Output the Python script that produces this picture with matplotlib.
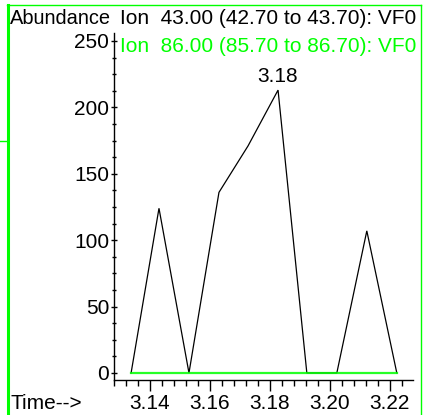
import matplotlib
matplotlib.use("Agg")
import matplotlib.pyplot as plt
from matplotlib.ticker import MultipleLocator, FormatStrFormatter
from matplotlib.lines import Line2D

plt.rcParams['font.family'] = ['Liberation Sans', 'DejaVu Sans']

# Data
times = [3.1337, 3.1430, 3.1530, 3.1630, 3.1727, 3.1827, 3.1923, 3.2023, 3.2123, 3.2223]
ion43 = [0, 124, 0, 136, 171, 213, 0, 0, 107, 0]
ion86 = [0, 0, 0, 0, 0, 0, 0, 0, 0, 0]
peak_label = "3.18"
peak_time = 3.1827
peak_value = 213
title1 = "Ion  43.00 (42.70 to 43.70): VF0"
title2 = "Ion  86.00 (85.70 to 86.70): VF0"

W, H = 423, 415
fig = plt.figure(figsize=(W / 100, H / 100), dpi=100)
green = "#00ff00"
fs = 15

def fx(px):
    return px / W

def fy(py):
    return 1 - py / H

ax = fig.add_axes([fx(114), fy(380), fx(413) - fx(114), fy(33) - fy(380)])
ax.plot(times, ion43, color="black", lw=0.9, solid_joinstyle="miter")
ax.plot(times, ion86, color=green, lw=1.6, alpha=0.85)

ax.set_xlim(3.128, 3.2277)
ax.set_ylim(-5.3, 256)
ax.spines['top'].set_visible(False)
ax.spines['right'].set_visible(False)
ax.spines['left'].set_linewidth(1.0)
ax.spines['bottom'].set_linewidth(1.0)

ax.xaxis.set_major_locator(MultipleLocator(0.02))
ax.xaxis.set_minor_locator(MultipleLocator(0.004))
ax.xaxis.set_major_formatter(FormatStrFormatter('%.2f'))
ax.yaxis.set_major_locator(MultipleLocator(50))
ax.yaxis.set_minor_locator(MultipleLocator(12.5))

ax.tick_params(axis='x', which='major', direction='out', length=8, width=1, labelsize=fs, pad=2)
ax.tick_params(axis='x', which='minor', direction='out', length=4, width=1)
ax.tick_params(axis='y', which='major', direction='inout', length=5, width=1, labelsize=fs, pad=1)
ax.tick_params(axis='y', which='minor', direction='inout', length=3, width=1)

ax.text(peak_time, peak_value + 3, peak_label, ha='center', va='bottom', fontsize=fs)

fig.text(fx(10), fy(19), "Abundance", ha='left', va='center', fontsize=14.4)
fig.text(fx(120), fy(19), title1, ha='left', va='center', fontsize=fs, color='black')
fig.text(fx(120), fy(46), title2, ha='left', va='center', fontsize=fs, color=green)
fig.text(fx(10), fy(403), "Time-->", ha='left', va='center', fontsize=fs)

# green frame
fig.add_artist(Line2D([fx(8), fx(8)], [fy(5), 0], color=green, lw=2.2, transform=fig.transFigure))
fig.add_artist(Line2D([fx(7), fx(421)], [fy(5.5), fy(5.5)], color=green, lw=1.0, transform=fig.transFigure))
fig.add_artist(Line2D([fx(421), fx(421)], [fy(5), 0], color=green, lw=1.0, transform=fig.transFigure))
fig.add_artist(Line2D([0, fx(7)], [fy(141), fy(141)], color=green, lw=1.0, transform=fig.transFigure))

fig.savefig("out.png", dpi=100)
